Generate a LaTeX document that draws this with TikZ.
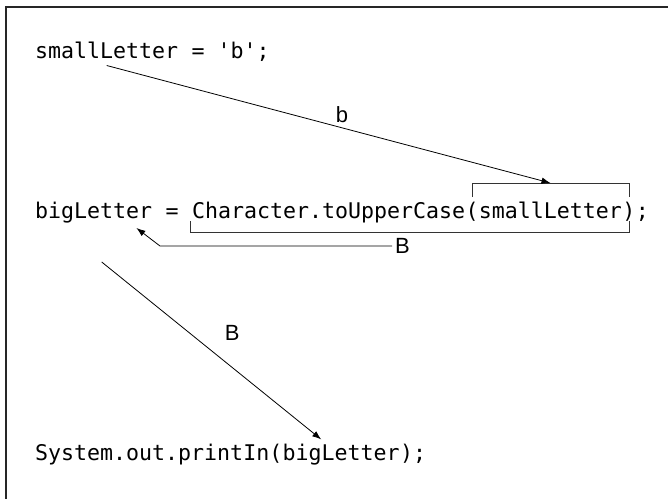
\documentclass[tikz,border=0pt]{standalone}
\usepackage{fontspec}
\setmonofont{DejaVu Sans Mono}
\setsansfont{Liberation Sans}
\usetikzlibrary{arrows.meta, positioning, calc}

\begin{document}
\begin{tikzpicture}[
  x=1pt, y=-1pt,
  code/.style={inner sep=0pt, font=\ttfamily\fontsize{21.6}{26}\selectfont},
  lbl/.style={inner sep=3pt, font=\sffamily\fontsize{22}{26}\selectfont},
  arr/.style={-{Latex[length=9pt,width=6.5pt]}, line width=0.8pt},
  brkt/.style={line width=0.8pt, black!80}
]
\useasboundingbox (0,0) rectangle (668,499);
% frame, only top and left edges show
\draw[line width=1.3pt, black!85] (668,7) -- (6,7) -- (6,499);

% line 1
\node[code, anchor=base west] (small1) at (35,58) {smallLetter};
\node[code, base right=0pt of small1] (rest1) {\ =\ 'b';};

% line 2
\node[code, anchor=base west] (big2) at (35,218) {bigLetter};
\node[code, base right=0pt of big2] (eq2) {\ =\ \null};
\node[code, base right=0pt of eq2] (call2) {Character.toUpperCase};
\node[code, base right=0pt of call2] (lp2) {(};
\node[code, base right=0pt of lp2] (arg2) {smallLetter};
\node[code, base right=0pt of arg2] (rp2) {)};
\node[code, base right=0pt of rp2] (semi2) {;};

% line 3
\node[code, anchor=base west] (sys3) at (35,460) {System.out.printIn(};
\node[code, base right=0pt of sys3] (big3) {bigLetter};
\node[code, base right=0pt of big3] (end3) {);};

% brackets
\draw[brkt] ([yshift=21pt]lp2.base) -- ([yshift=35pt]lp2.base)
  -- ([yshift=35pt]rp2.base) -- ([yshift=21pt]rp2.base);
\draw[brkt] ([xshift=-1pt,yshift=-3pt]call2.base west) -- ([xshift=-1pt,yshift=-14pt]call2.base west)
  -- ([yshift=-14pt]rp2.base) -- ([yshift=-3pt]rp2.base);

% value flow
\draw[arr] ([yshift=-7pt]small1.south) -- node[lbl, pos=0.53, above=2pt] (b1) {b} ([yshift=35pt]arg2.base);

\node[lbl, anchor=west] (B1) at (392,246) {B};
\coordinate (bend2) at (160,246);
\draw[arr] (B1.west) -- (bend2) -- ([xshift=-16pt,yshift=-10pt]big2.base east);

\draw[arr] ([xshift=8pt,yshift=-44pt]big2.base) -- node[lbl, pos=0.4, right=32pt] (B2) {B} ([xshift=-20pt,yshift=4pt]big3.north);
\end{tikzpicture}
\end{document}
